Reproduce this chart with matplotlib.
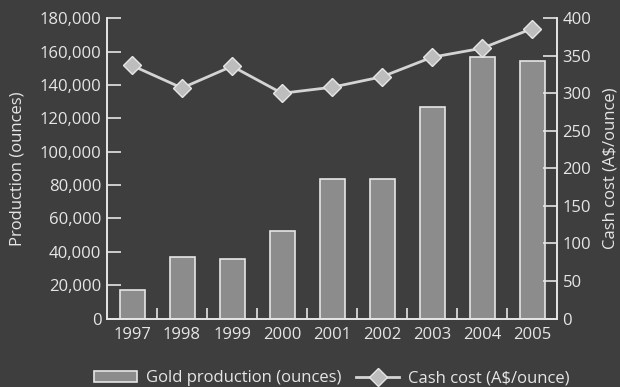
import matplotlib.pyplot as plt
import numpy as np

# gold production and cash cost by year
years = ['1997', '1998', '1999', '2000', '2001', '2002', '2003', '2004', '2005']
production = [16900, 36800, 35400, 52400, 83400, 83400, 127000, 157000, 154200]
cash_cost = [337, 307, 336, 300, 308, 322, 348, 360, 386]

bg = '#3e3e3e'
fg = '#e6e6e6'
plt.rcParams['font.family'] = 'Open Sans'
plt.rcParams['font.size'] = 12

fig = plt.figure(figsize=(6.2, 3.87), dpi=100)
fig.patch.set_facecolor(bg)
ax = fig.add_axes([0.1726, 0.177, 0.7258, 0.776])
ax.set_facecolor(bg)

x = np.arange(len(years))
bars = ax.bar(x, production, width=0.5, color='#8c8c8c', edgecolor=fg,
              linewidth=1.2, label='Gold production (ounces)')
ax.set_xlim(-0.5, len(years) - 0.5)
ax.set_ylim(0, 180000)
ax.set_yticks(np.arange(0, 180001, 20000))
ax.set_yticklabels([f'{v:,}' for v in range(0, 180001, 20000)])
ax.set_xticks(x)
ax.set_xticklabels(years)
ax.set_xticks(np.arange(0.5, len(years) - 1, 1), minor=True)
ax.tick_params(axis='x', which='major', length=0, colors=fg, pad=6)
ax.tick_params(axis='x', which='minor', direction='in', length=8, width=1.2, color=fg)
ax.tick_params(axis='y', direction='in', length=10, width=1.2, colors=fg, pad=4)
ax.set_ylabel('Production (ounces)', color=fg, labelpad=10)

ax2 = ax.twinx()
line, = ax2.plot(x, cash_cost, color='#d4d4d4', lw=2, marker='D', markersize=9,
                 markerfacecolor='#bdbdbd', markeredgecolor=fg, markeredgewidth=1,
                 label='Cash cost (A$/ounce)')
ax2.set_ylim(0, 400)
ax2.set_yticks(np.arange(0, 401, 50))
ax2.tick_params(axis='y', direction='in', length=10, width=1.2, colors=fg, pad=4)
ax2.set_ylabel('Cash cost (A$/ounce)', color=fg, labelpad=8)

for a in (ax, ax2):
    a.spines['top'].set_visible(False)
    for s in ('left', 'right', 'bottom'):
        a.spines[s].set_color(fg)
        a.spines[s].set_linewidth(1.2)

fig.legend(handles=[bars, line], loc='center', bbox_to_anchor=(0.535, 0.022),
           ncol=2, frameon=False, labelcolor=fg, handlelength=2.6,
           columnspacing=0.9, handletextpad=0.5)

fig.savefig('out.png', dpi=100, facecolor=bg)
